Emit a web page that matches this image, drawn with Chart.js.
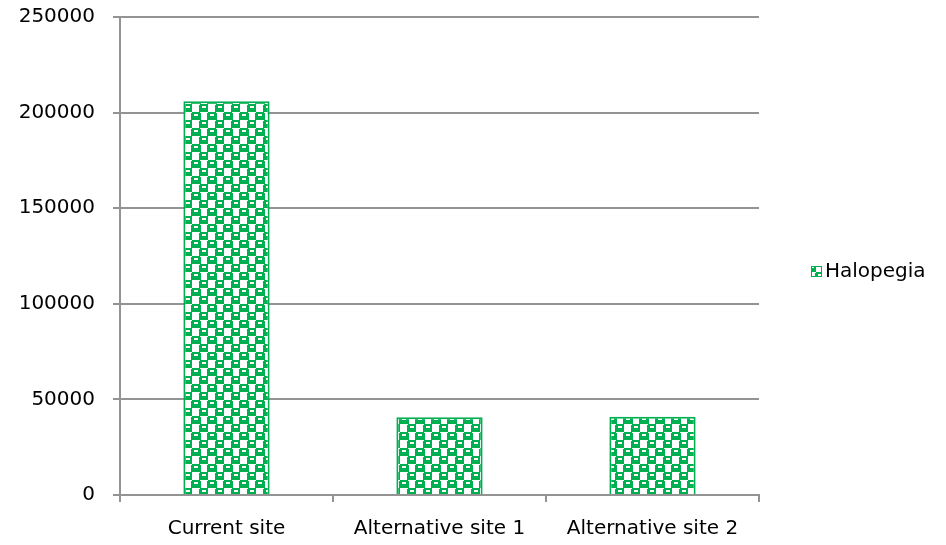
<!DOCTYPE html>
<html>
<head>
<meta charset="utf-8">
<script src="https://cdn.jsdelivr.net/npm/chart.js@4/dist/chart.umd.min.js"></script>
<style>
  html, body { margin: 0; padding: 0; background: #fff; }
  #wrap { width: 946px; height: 545px; }
</style>
</head>
<body>
<div id="wrap"><canvas id="siteChart" width="946" height="545"></canvas></div>
<script>
var sites = ['Current site', 'Alternative site 1', 'Alternative site 2'];
var halopegia = [206000, 40600, 40900];
var seriesName = 'Halopegia';

var GREEN = '#00b050';
var AXIS = '#939393';
var FONT = '"DejaVu Sans", sans-serif';

// checkerboard fill used for the bars and the legend key
function makePattern() {
  var c = document.createElement('canvas');
  c.width = 16; c.height = 16;
  var g = c.getContext('2d');
  g.fillStyle = '#fff';
  g.fillRect(0, 0, 16, 16);

  function block(x, y) {
    g.fillStyle = GREEN;
    g.fillRect(x, y + 1, 10, 7);
    g.fillRect(x + 1, y, 8, 8);
    g.fillStyle = '#fff';
    g.fillRect(x + 3, y + 2, 4, 2);
  }
  block(-1, 0);
  block(15, 0);
  block(7, 8);
  return g.createPattern(c, 'repeat');
}

var pattern = makePattern();

var sideLegend = {
  id: 'sideLegend',
  afterDraw: function (chart) {
    var ctx = chart.ctx;
    var ds = chart.data.datasets[0];
    var x = 811, y = 272;
    ctx.save();
    ctx.fillStyle = ds.backgroundColor;
    ctx.fillRect(x, y - 6, 11, 11);
    ctx.strokeStyle = GREEN;
    ctx.lineWidth = 1;
    ctx.strokeRect(x + 0.5, y - 5.5, 10, 10);
    ctx.fillStyle = '#000';
    ctx.font = '20px ' + FONT;
    ctx.textBaseline = 'middle';
    ctx.fillText(ds.label, x + 14, y);
    ctx.restore();
  }
};

new Chart(document.getElementById('siteChart'), {
  type: 'bar',
  data: {
    labels: sites,
    datasets: [{
      label: seriesName,
      data: halopegia,
      backgroundColor: pattern,
      borderColor: GREEN,
      borderWidth: 2,
      borderSkipped: 'bottom',
      categoryPercentage: 1,
      barPercentage: 0.405
    }]
  },
  options: {
    responsive: false,
    animation: false,
    layout: { padding: { top: 17, right: 187, left: 0, bottom: 0 } },
    plugins: {
      legend: { display: false },
      tooltip: { enabled: false }
    },
    scales: {
      x: {
        offset: true,
        grid: {
          offset: true,
          drawOnChartArea: false,
          drawTicks: true,
          tickLength: 7,
          lineWidth: 2,
          color: AXIS
        },
        border: { color: AXIS, width: 2 },
        ticks: {
          color: '#000',
          padding: 15,
          maxRotation: 0,
          autoSkip: false,
          font: { family: FONT, size: 20 }
        },
        afterFit: function (scale) {
          scale.height = 50;
          scale.paddingLeft = 0;
          scale.paddingRight = 0;
        }
      },
      y: {
        min: 0,
        max: 250000,
        grid: {
          color: AXIS,
          lineWidth: 2,
          tickLength: 7
        },
        border: { color: AXIS, width: 2 },
        ticks: {
          stepSize: 50000,
          color: '#000',
          padding: 18,
          font: { family: FONT, size: 20 },
          callback: function (v) { return String(v); }
        },
        afterFit: function (scale) {
          scale.width = 120;
          scale.paddingTop = 0;
          scale.paddingBottom = 0;
        }
      }
    }
  },
  plugins: [sideLegend]
});
</script>
</body>
</html>
